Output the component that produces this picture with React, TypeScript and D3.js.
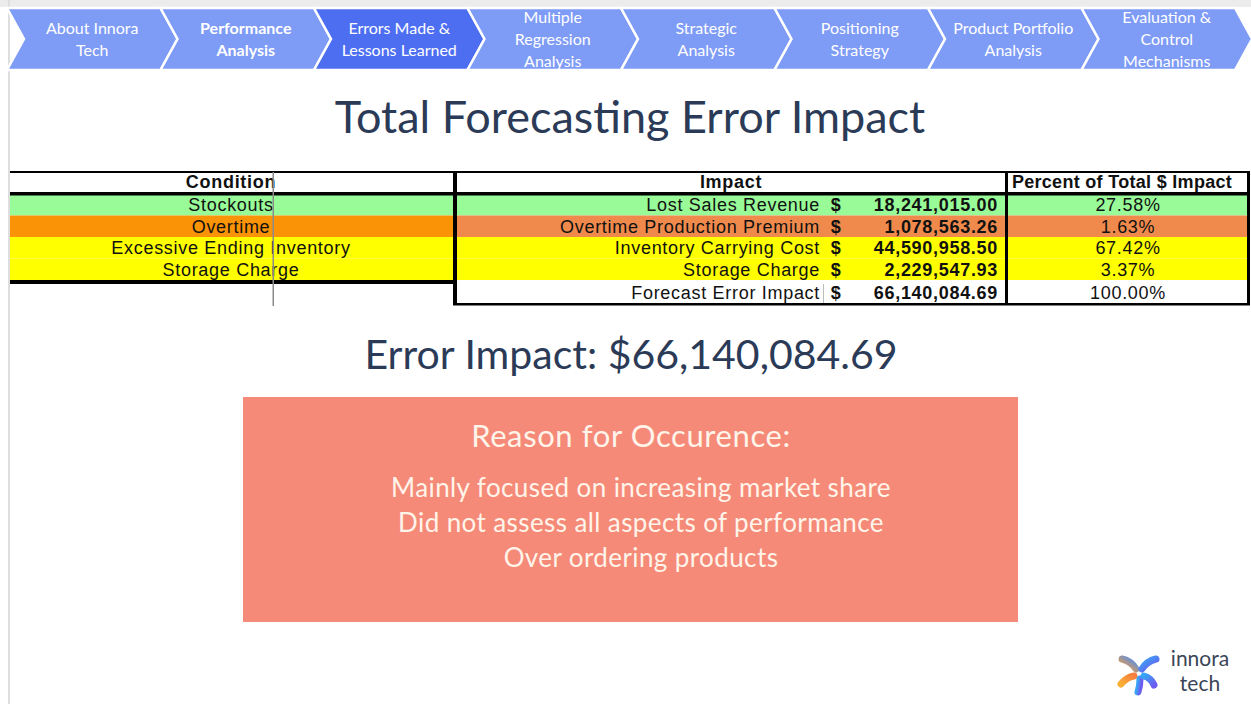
import { scaleBand, range, sum, format } from "d3";

// nav steps (\n = line break)
const navItems = [
  "About Innora\nTech",
  "Performance\nAnalysis",
  "Errors Made &\nLessons Learned",
  "Multiple\nRegression\nAnalysis",
  "Strategic\nAnalysis",
  "Positioning\nStrategy",
  "Product Portfolio\nAnalysis",
  "Evaluation &\nControl\nMechanisms",
];
const boldNav = 1;
const activeNav = 2;

const conditions = ["Stockouts", "Overtime", "Excessive Ending Inventory", "Storage Charge"];
const conditionColors = ["#98fb98", "#fb9306", "#ffff00", "#ffff00"];
const impactLabels = ["Lost Sales Revenue", "Overtime Production Premium", "Inventory Carrying Cost", "Storage Charge"];
const impactColors = ["#98fb98", "#f08a4c", "#ffff00", "#ffff00"];
const impactValues = [18241015.0, 1078563.26, 44590958.5, 2229547.93];
const totalLabel = "Forecast Error Impact";

const reasons = [
  "Mainly focused on increasing market share",
  "Did not assess all aspects of performance",
  "Over ordering products",
];

const W = 1251;
const H = 704;
const money = format(",.2f");
const pct = format(".2%");

export default function App() {
  const total = sum(impactValues);

  // nav chevrons
  const navX = scaleBand<number>().domain(range(navItems.length)).range([7, 7 + 153.5 * navItems.length]);
  const bw = navX.bandwidth();
  const depth = 17;
  const navTop = 8;
  const navBot = 70;
  const navMid = (navTop + navBot) / 2;

  // table rows
  const rowY = scaleBand<number>().domain(range(conditions.length)).range([194, 280]);
  const rh = rowY.bandwidth();

  const font = "Liberation Sans, Arial, sans-serif";
  const ls = 0.7;

  return (
    <svg
      width={W}
      height={H}
      style={{ position: "absolute", left: 0, top: 0, background: "#fff" }}
    >
      {/* page edges */}
      <rect x={0} y={0} width={W} height={7} fill="#ececec" />
      <rect x={8} y={0} width={2} height={H} fill="#dedede" />

      {/* Nav */}
      {navItems.map((t, i) => {
        const x = navX(i)!;
        const pts = [
          [x, navTop],
          [x + bw, navTop],
          [x + bw + depth, navMid],
          [x + bw, navBot],
          [x, navBot],
          [x + depth, navMid],
        ];
        const lines = t.split("\n");
        const cx = x + bw / 2 + depth / 2;
        const lh = 22;
        return (
          <g key={i}>
            <polygon
              points={pts.map((p) => p.join(",")).join(" ")}
              fill={i === activeNav ? "#4d6ef1" : "#7e9bf6"}
              stroke="#fff"
              strokeWidth={2.5}
              strokeLinejoin="miter"
            />
            {lines.map((l, j) => (
              <text
                key={j}
                x={cx}
                y={navMid + (j - (lines.length - 1) / 2) * lh}
                dy="0.35em"
                textAnchor="middle"
                fill="#fff"
                fontFamily="Lato, sans-serif"
                fontWeight={i === boldNav ? 700 : 400}
                fontSize={16}
              >
                {l}
              </text>
            ))}
          </g>
        );
      })}

      {/* Title */}
      <text x={630} y={133} textAnchor="middle" fill="#2b3b57" fontFamily="Lato, sans-serif" fontSize={45}>
        Total Forecasting Error Impact
      </text>

      {/* Left table */}
      <g fontFamily={font} fontSize={18} fill="#111" letterSpacing={ls}>
        <rect x={10} y={172} width={443} height={20} fill="#fff" />
        {conditions.map((c, i) => (
          <rect key={c} x={10} y={rowY(i)} width={443} height={rh} fill={conditionColors[i]} />
        ))}
        <rect x={10} y={171} width={443} height={2} fill="#000" />
        <rect x={10} y={192} width={443} height={3.5} fill="#000" />
        <rect x={10} y={280} width={443} height={4} fill="#000" />
        <text x={231} y={182} dy="0.35em" textAnchor="middle" fontWeight={700}>
          Condition
        </text>
        {conditions.map((c, i) => (
          <text key={c} x={231} y={rowY(i)! + rh / 2} dy="0.35em" textAnchor="middle">
            {c}
          </text>
        ))}
        <rect x={272.5} y={172} width={1.5} height={134} fill="#8c8c8c" />
      </g>

      {/* Right table */}
      <g fontFamily={font} fontSize={18} fill="#111" letterSpacing={ls}>
        <rect x={457} y={172} width={791} height={20} fill="#fff" />
        {impactLabels.map((c, i) => (
          <g key={c}>
            <rect x={457} y={rowY(i)} width={548} height={rh} fill={impactColors[i]} />
            <rect x={1008} y={rowY(i)} width={240} height={rh} fill={impactColors[i]} />
          </g>
        ))}
        <rect x={457} y={280} width={791} height={23} fill="#fff" />
        <rect x={823} y={284} width={1} height={19} fill="#bbb" />
        <rect x={453} y={171} width={797} height={2} fill="#000" />
        <rect x={457} y={192} width={793} height={3.5} fill="#000" />
        <rect x={453} y={171} width={4} height={134} fill="#000" />
        <rect x={1005} y={171} width={3} height={134} fill="#000" />
        <rect x={1247} y={171} width={3} height={134} fill="#000" />
        <rect x={453} y={303} width={797} height={2.5} fill="#000" />

        <text x={731} y={182} dy="0.35em" textAnchor="middle" fontWeight={700}>
          Impact
        </text>
        <text x={1122} y={182} dy="0.35em" textAnchor="middle" fontWeight={700} letterSpacing={0.3}>
          Percent of Total $ Impact
        </text>
        {impactLabels.map((c, i) => {
          const cy = rowY(i)! + rh / 2;
          return (
            <g key={c}>
              <text x={820} y={cy} dy="0.35em" textAnchor="end">{c}</text>
              <text x={836} y={cy} dy="0.35em" textAnchor="middle" fontWeight={700}>$</text>
              <text x={998} y={cy} dy="0.35em" textAnchor="end" fontWeight={700}>{money(impactValues[i])}</text>
              <text x={1128} y={cy} dy="0.35em" textAnchor="middle">{pct(impactValues[i] / total)}</text>
            </g>
          );
        })}
        <text x={820} y={293} dy="0.35em" textAnchor="end">{totalLabel}</text>
        <text x={836} y={293} dy="0.35em" textAnchor="middle" fontWeight={700}>$</text>
        <text x={998} y={293} dy="0.35em" textAnchor="end" fontWeight={700}>{money(total)}</text>
        <text x={1128} y={293} dy="0.35em" textAnchor="middle">{pct(1)}</text>
      </g>

      {/* Error impact */}
      <text x={631} y={369} textAnchor="middle" fill="#2b3b57" fontFamily="Lato, sans-serif" fontSize={41}>
        {`Error Impact: $${money(total)}`}
      </text>

      {/* Reason box */}
      <rect x={243} y={397} width={775} height={225} fill="#f58a78" />
      <text x={631} y={447} textAnchor="middle" fill="#fff4ea" fontFamily="Lato, sans-serif" fontSize={31} letterSpacing={0.6}>
        Reason for Occurence:
      </text>
      {reasons.map((r, i) => (
        <text key={r} x={641} y={497 + i * 35} textAnchor="middle" fill="#fff4ea" fontFamily="Lato, sans-serif" fontSize={26} letterSpacing={0.4}>
          {r}
        </text>
      ))}

      {/* Logo */}
      <defs>
        <linearGradient id="lgBlue" x1="0" y1="0" x2="1" y2="1">
          <stop offset="0" stopColor="#38a4f6" />
          <stop offset="1" stopColor="#6c5cf0" />
        </linearGradient>
        <linearGradient id="lgMix" x1="0" y1="1" x2="1" y2="0">
          <stop offset="0" stopColor="#f9a23a" />
          <stop offset="1" stopColor="#4c8af3" />
        </linearGradient>
        <linearGradient id="lgOrange" x1="1" y1="0" x2="0" y2="1">
          <stop offset="0" stopColor="#f7803f" />
          <stop offset="1" stopColor="#fbb034" />
        </linearGradient>
      </defs>
      <g transform="translate(1139,674)" fill="none" strokeWidth={7} strokeLinecap="round">
        <path d="M-3,-5 Q-8,-13 -17,-15" stroke="url(#lgMix)" />
        <path d="M3,-5 Q8,-13 17,-15" stroke="url(#lgBlue)" />
        <path d="M-5,2 Q-12,3 -18,10" stroke="url(#lgOrange)" />
        <path d="M1,5 Q1,12 -1,18" stroke="url(#lgBlue)" />
        <path d="M5,2 Q12,4 15,11" stroke="url(#lgBlue)" />
      </g>
      <text x={1200} y={666} textAnchor="middle" fill="#3b4658" fontFamily="Lato, sans-serif" fontSize={21}>
        innora
      </text>
      <text x={1200} y={691} textAnchor="middle" fill="#3b4658" fontFamily="Lato, sans-serif" fontSize={21}>
        tech
      </text>
    </svg>
  );
}
